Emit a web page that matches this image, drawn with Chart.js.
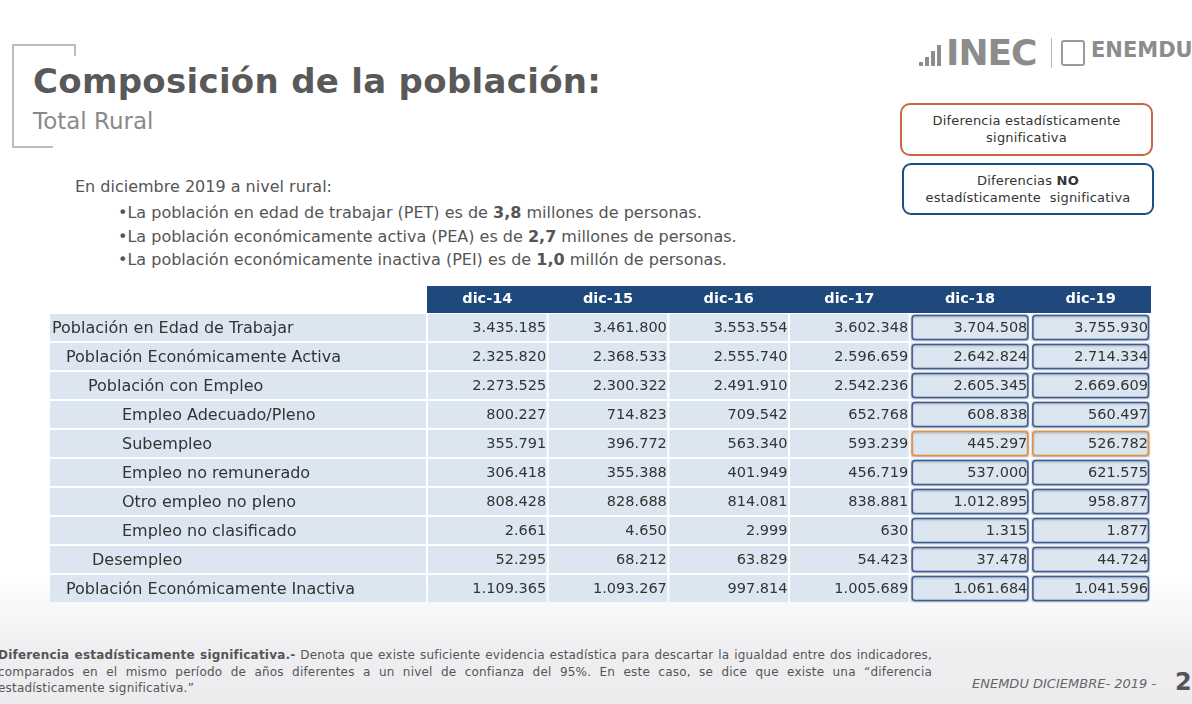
<!DOCTYPE html>
<html>
<head>
<meta charset="utf-8">
<script src="https://cdn.jsdelivr.net/npm/chart.js@4/dist/chart.umd.min.js"></script>
<style>
  html, body { margin: 0; padding: 0; }
  body {
    width: 1192px; height: 704px; overflow: hidden; position: relative;
    font-family: 'DejaVu Sans', sans-serif; color: #555;
    background: linear-gradient(to bottom, #ffffff 0%, #ffffff 82%, #efeff1 92%, #ececee 100%);
  }
  .abs { position: absolute; white-space: nowrap; }
  .bracket { position: absolute; background: #bdbdbd; }
  #title { left: 33px; top: 61px; font-size: 34px; font-weight: bold; color: #595959; letter-spacing: 0.3px; }
  #sub { left: 33px; top: 108px; font-size: 23px; color: #8a8a8a; }
  .intro { font-size: 16px; line-height: 18px; color: #555; }
  .legend { position: absolute; border-radius: 10px; background: #fff; text-align: center;
            font-size: 13px; line-height: 17px; color: #333; box-sizing: border-box; padding-top: 7px; letter-spacing: 0.2px; }
  #tbl { position: absolute; left: 50px; top: 285px; }
  .foot { position: absolute; left: -2px; width: 934px; font-size: 12px; line-height: 16px; color: #555;
          text-align: justify; text-align-last: justify; white-space: nowrap; letter-spacing: 0.2px; }
  .bar { position: absolute; background: #8c8c8c; width: 4px; }
</style>
</head>
<body>
<!-- marco del titulo -->
<div class="bracket" style="left:12px;top:44px;width:1.5px;height:103px"></div>
<div class="bracket" style="left:12px;top:44px;width:63px;height:1.5px"></div>
<div class="bracket" style="left:74px;top:44px;width:1.5px;height:12px"></div>
<div class="bracket" style="left:12px;top:146px;width:41px;height:1.5px"></div>

<div id="title" class="abs">Composición de la población:</div>
<div id="sub" class="abs">Total Rural</div>

<!-- logo -->
<div class="bar" style="left:919px;top:62px;height:4px"></div>
<div class="bar" style="left:925px;top:57px;height:9px"></div>
<div class="bar" style="left:931px;top:51px;height:15px"></div>
<div class="bar" style="left:937px;top:45px;height:21px"></div>
<div class="abs" style="left:946px;top:32px;font-size:36px;font-weight:bold;color:#8c8c8c;letter-spacing:-1px">INEC</div>
<div class="abs" style="left:1051px;top:38px;width:1px;height:30px;background:#bbb"></div>
<div class="abs" style="left:1061px;top:40px;width:20px;height:22px;border:2px solid #9a9a9a;border-radius:3px"></div>
<div class="abs" style="left:1091px;top:38px;font-size:21px;font-weight:bold;color:#8c8c8c">ENEMDU</div>

<!-- leyenda -->
<div class="legend" style="left:900px;top:103px;width:253px;height:53px;border:2px solid #c8673f">Diferencia estadísticamente<br>significativa</div>
<div class="legend" style="left:902px;top:163px;width:252px;height:52px;border:2px solid #1f4e80;border-radius:9px">Diferencias <b>NO</b><br>estadísticamente&nbsp; significativa</div>

<!-- resumen -->
<div class="abs intro" style="left:75px;top:178px">En diciembre 2019 a nivel rural:</div>
<div class="abs intro" style="left:118px;top:204px">•La población en edad de trabajar (PET) es de <b>3,8</b> millones de personas.</div>
<div class="abs intro" style="left:118px;top:228px">•La población económicamente activa (PEA) es de <b>2,7</b> millones de personas.</div>
<div class="abs intro" style="left:118px;top:251px">•La población económicamente inactiva (PEI) es de <b>1,0</b> millón de personas.</div>

<canvas id="tbl" width="1101" height="318"></canvas>

<!-- nota al pie -->
<div class="foot" style="top:647px"><b>Diferencia estadísticamente significativa.-</b> Denota que existe suficiente evidencia estadística para descartar la igualdad entre dos indicadores,</div>
<div class="foot" style="top:664px">comparados en el mismo período de años diferentes a un nivel de confianza del 95%. En este caso, se dice que existe una “diferencia</div>
<div class="foot" style="top:680px;text-align-last:left">estadísticamente significativa.”</div>
<div class="abs" style="left:972px;top:676px;font-size:13px;font-style:italic;color:#666">ENEMDU DICIEMBRE- 2019 -</div>
<div class="abs" style="left:1175px;top:668px;font-size:24px;font-weight:bold;color:#555">2</div>

<script>
// columnas y filas de la tabla
const years = ['dic-14', 'dic-15', 'dic-16', 'dic-17', 'dic-18', 'dic-19'];
const rows = [
  'Población en Edad de Trabajar',
  'Población Económicamente Activa',
  'Población con Empleo',
  'Empleo Adecuado/Pleno',
  'Subempleo',
  'Empleo no remunerado',
  'Otro empleo no pleno',
  'Empleo no clasificado',
  'Desempleo',
  'Población Económicamente Inactiva'
];
const indent = [2, 16, 38, 72, 72, 72, 72, 72, 42, 16];

const dic14 = [3435185, 2325820, 2273525, 800227, 355791, 306418, 808428, 2661, 52295, 1109365];
const dic15 = [3461800, 2368533, 2300322, 714823, 396772, 355388, 828688, 4650, 68212, 1093267];
const dic16 = [3553554, 2555740, 2491910, 709542, 563340, 401949, 814081, 2999, 63829, 997814];
const dic17 = [3602348, 2596659, 2542236, 652768, 593239, 456719, 838881, 630, 54423, 1005689];
const dic18 = [3704508, 2642824, 2605345, 608838, 445297, 537000, 1012895, 1315, 37478, 1061684];
const dic19 = [3755930, 2714334, 2669609, 560497, 526782, 621575, 958877, 1877, 44724, 1041596];

// 1 = diferencia estadisticamente significativa (marco naranja), 0 = no (marco azul)
const significant = [0, 0, 0, 0, 1, 0, 0, 0, 0, 0];
const framedCols = ['dic-18', 'dic-19'];

const series = [dic14, dic15, dic16, dic17, dic18, dic19];
const FONT = 'DejaVu Sans';

function fmtNum(v) {
  return String(v).replace(/\B(?=(\d{3})+(?!\d))/g, '.');
}

function roundRect(ctx, x, y, w, h, r) {
  ctx.beginPath();
  ctx.moveTo(x + r, y);
  ctx.lineTo(x + w - r, y); ctx.quadraticCurveTo(x + w, y, x + w, y + r);
  ctx.lineTo(x + w, y + h - r); ctx.quadraticCurveTo(x + w, y + h, x + w - r, y + h);
  ctx.lineTo(x + r, y + h); ctx.quadraticCurveTo(x, y + h, x, y + h - r);
  ctx.lineTo(x, y + r); ctx.quadraticCurveTo(x, y, x + r, y);
  ctx.closePath();
}

const tablePlugin = {
  id: 'tableCells',
  beforeDraw(chart) {
    const ctx = chart.ctx, xs = chart.scales.x, ys = chart.scales.y;
    const cw = xs.getPixelForValue(1) - xs.getPixelForValue(0);
    const rh = Math.abs(ys.getPixelForValue(1) - ys.getPixelForValue(0));
    ctx.save();
    // cabecera
    ctx.fillStyle = '#1f497d';
    ctx.fillRect(xs.left, xs.top + 1, xs.right - xs.left, xs.bottom - xs.top - 1);
    // celdas
    ctx.fillStyle = '#dce6f1';
    rows.forEach(function(r, i) {
      const yc = ys.getPixelForValue(i);
      const top = yc - rh / 2 + 1, h = rh - 2;
      ctx.fillRect(ys.left, top, ys.right - ys.left - 1, h);
      years.forEach(function(y, j) {
        const xc = xs.getPixelForValue(j);
        ctx.fillRect(xc - cw / 2 + 1, top, cw - 2, h);
      });
    });
    // etiquetas de fila
    ctx.fillStyle = '#333';
    ctx.font = '16px "' + FONT + '"';
    ctx.textAlign = 'left';
    ctx.textBaseline = 'middle';
    rows.forEach(function(r, i) {
      ctx.fillText(r, ys.left + indent[i], ys.getPixelForValue(i) + 1);
    });
    ctx.restore();
  },
  afterDatasetsDraw(chart) {
    const ctx = chart.ctx, xs = chart.scales.x, ys = chart.scales.y;
    const cw = xs.getPixelForValue(1) - xs.getPixelForValue(0);
    const rh = Math.abs(ys.getPixelForValue(1) - ys.getPixelForValue(0));
    ctx.save();
    chart.data.datasets.forEach(function(ds, j) {
      const meta = chart.getDatasetMeta(j);
      const framed = framedCols.indexOf(ds.label) > -1;
      meta.data.forEach(function(pt, i) {
        if (framed) {
          ctx.save();
          ctx.shadowColor = 'rgba(0,0,0,0.25)';
          ctx.shadowBlur = 2;
          ctx.shadowOffsetY = 1;
          ctx.strokeStyle = significant[i] ? '#e88f3a' : '#3d5b94';
          ctx.lineWidth = 1.5;
          roundRect(ctx, pt.x - cw / 2 + 2.5, pt.y - rh / 2 + 2.5, cw - 5, rh - 5, 3);
          ctx.stroke();
          ctx.restore();
        }
        ctx.fillStyle = '#333';
        ctx.font = '14.5px "' + FONT + '"';
        ctx.textAlign = 'right';
        ctx.textBaseline = 'middle';
        ctx.fillText(fmtNum(ds.data[i].v), pt.x + cw / 2 - (framed ? 3 : 1.5), pt.y + 1);
      });
    });
    ctx.restore();
  }
};

new Chart(document.getElementById('tbl').getContext('2d'), {
  type: 'line',
  data: {
    labels: years,
    datasets: years.map(function(y, j) {
      return {
        label: y,
        data: series[j].map(function(v, i) { return { x: y, y: rows[i], v: v }; }),
        showLine: false, pointRadius: 0, pointHoverRadius: 0
      };
    })
  },
  options: {
    responsive: false, animation: false, events: [],
    layout: { padding: 0 },
    plugins: { legend: { display: false }, tooltip: { enabled: false } },
    scales: {
      x: {
        type: 'category', labels: years, position: 'top', offset: true,
        grid: { display: false, drawTicks: false }, border: { display: false },
        ticks: { color: '#ffffff', font: { family: FONT, size: 14.5, weight: 'bold' }, padding: 5 },
        afterFit: function(s) { s.height = 28; }
      },
      y: {
        type: 'category', labels: rows, offset: true,
        grid: { display: false, drawTicks: false }, border: { display: false },
        ticks: { display: false },
        afterFit: function(s) { s.width = 377; }
      }
    }
  },
  plugins: [tablePlugin]
});
</script>
</body>
</html>
